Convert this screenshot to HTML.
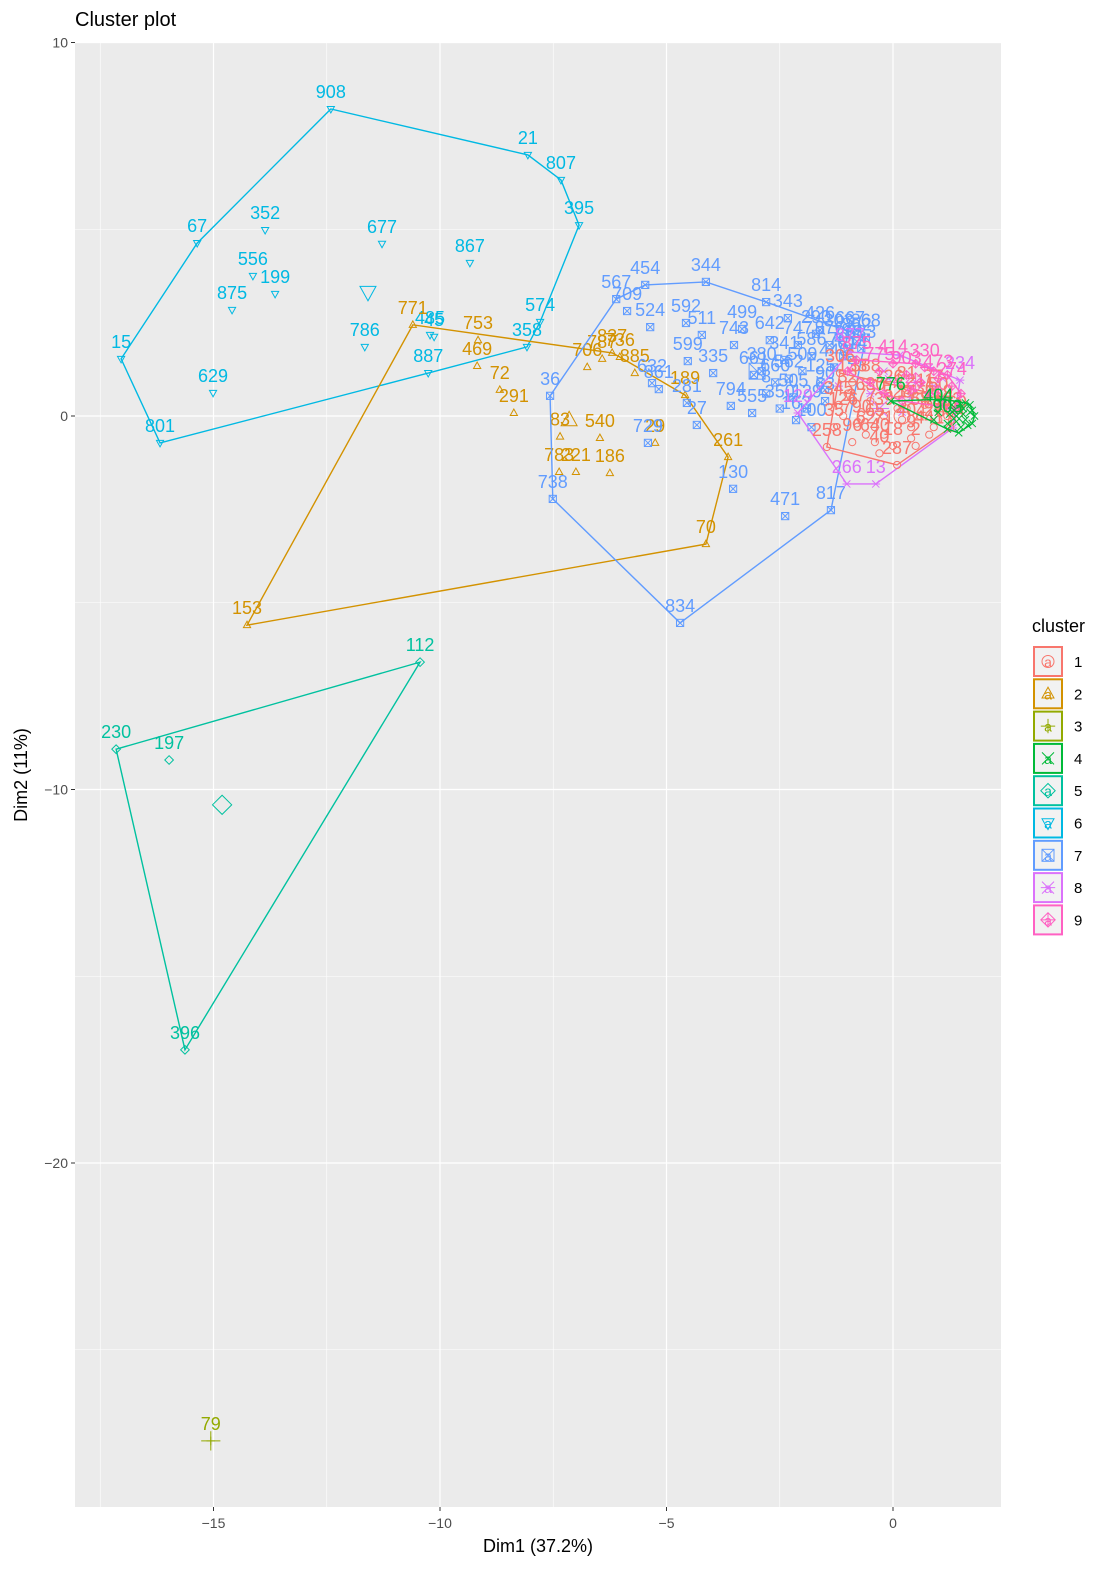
<!DOCTYPE html>
<html><head><meta charset="utf-8"><style>
body{margin:0;background:#fff;}
svg text{font-family:"Liberation Sans",sans-serif;}
</style></head><body>
<svg id="chart" width="1093" height="1565" viewBox="0 0 1093 1565" xmlns="http://www.w3.org/2000/svg">
<text x="75" y="26" font-size="20" fill="#000">Cluster plot</text>
<rect x="75" y="43" width="926" height="1464" fill="#ebebeb"/>
<g id="grid"></g>
<g id="axes"></g>
<g id="marks"></g>
<text x="538" y="1552" font-size="18" text-anchor="middle">Dim1 (37.2%)</text>
<text transform="translate(27,775) rotate(-90)" font-size="18" text-anchor="middle">Dim2 (11%)</text>
<g id="legend">
<text x="1032" y="632" font-size="18">cluster</text>
</g>
</svg>
<script>
const clusterIds = [1,2,3,4,5,6,7,8,9];
const clusterColors = ["#F8766D","#D39200","#93AA00","#00BA38","#00C19F","#00B9E3","#619CFF","#DB72FB","#FF61C3"];
const xTicks = [-15,-10,-5,0];
const yTicks = [10,0,-10,-20];
const xTickLabels = ["\u221215","\u221210","\u22125","0"];
const yTickLabels = ["10","0","\u221210","\u221220"];
const xMinor = [-17.5,-12.5,-7.5,-2.5];
const yMinor = [5,-5,-15,-25];

const c1x = [-1.46,0.09,1.26,-1.17,-1.2,-0.8,-0.5,-0.2,0.1,0.4,0.7,1.0,-0.9,-0.3,0.5,0.9,0.3,-0.6,-1.3,0.2,0.6,1.1,-0.4,-1.0,-0.7,-0.1,0.3,0.8,1.2,-1.1,-0.4,0.0,0.4,0.9,1.3,-0.6,-0.2,0.6,1.0,-0.9];
const c1y = [-0.83,-1.31,-0.32,1.15,0.3,-0.2,0.4,-0.5,0.2,-0.3,0.3,-0.1,-0.7,-1.0,-0.8,0.6,0.7,0.9,-0.3,-0.1,0.0,0.2,-0.7,0.6,0.1,0.6,0.2,-0.5,0.0,0.0,-0.3,-0.8,-0.6,-0.3,-0.1,-0.5,0.0,0.5,0.4,0.9];
const c1l = ["258","287","604","306","345","790","630","71","528","404","36","612","96","40","2","77","81","388","35","5","68","19","640","32","377","326","14","441","803","126","65","18","9","27","460","62","39","211","50","133"];

const c2x = [-10.60,-9.16,-9.18,-8.68,-8.37,-6.75,-6.42,-6.20,-6.03,-5.70,-4.59,-5.25,-6.47,-7.37,-7.00,-6.25,-3.64,-4.13,-14.26,-7.35];
const c2y = [2.44,2.03,1.34,0.70,0.08,1.31,1.53,1.69,1.58,1.15,0.56,-0.72,-0.59,-1.50,-1.50,-1.53,-1.10,-3.43,-5.60,-0.55];
const c2l = ["771","753","469","72","291","706","787","837","736","885","189","29","540","783","221","186","261","70","153","83"];

const c3x = [-15.06];
const c3y = [-27.44];
const c3l = ["79"];

const c4x = [1.0,1.2,1.4,1.5,1.6,1.7,1.3,1.5,1.2,1.1,1.6,1.75,1.45,1.35,0.9,-0.05,1.55,1.7,1.65,1.8,1.4,1.25,1.55,1.75];
const c4y = [0.1,-0.2,0.0,0.3,-0.1,0.1,0.3,-0.3,-0.35,0.45,0.35,-0.2,-0.45,0.15,-0.1,0.4,0.05,0.3,-0.25,0.0,-0.15,0.05,0.2,0.15];
const c4l = ["404","903","","","","","","","","","","","","","","776","","","","","","","",""];

const c5x = [-10.44,-17.15,-15.98,-15.63];
const c5y = [-6.59,-8.92,-9.21,-16.97];
const c5l = ["112","230","197","396"];

const c6x = [-12.41,-8.06,-7.33,-6.93,-15.36,-13.86,-11.28,-9.34,-14.13,-13.64,-14.59,-7.79,-17.04,-11.66,-10.22,-10.13,-8.08,-10.26,-15.01,-16.18];
const c6y = [8.22,6.99,6.32,5.11,4.63,4.98,4.61,4.10,3.75,3.27,2.84,2.52,1.53,1.85,2.17,2.12,1.85,1.15,0.62,-0.72];
const c6l = ["908","21","807","395","67","352","677","867","556","199","875","574","15","786","485","45","358","887","629","801"];

const c7x = [-5.47,-4.13,-6.11,-5.87,-5.36,-4.57,-4.22,-2.80,-2.32,-3.33,-3.51,-2.72,-4.53,-3.97,-7.57,-7.51,-4.70,-1.37,-2.38,-3.53,-4.33,-5.41,-4.55,-5.32,-5.17,-3.58,-3.11,-3.07,-2.14,-0.95,-1.61,-2.4,-2.0,-1.8,-1.6,-1.4,-1.2,-1.0,-0.8,-0.6,-2.6,-2.2,-1.9,-1.5,-2.8,-1.3,-2.1,-1.7,-0.9,-2.5,-1.8,-2.3,-1.1,-0.7,-2.9,-1.5];
const c7y = [3.51,3.59,3.13,2.81,2.38,2.49,2.17,3.05,2.62,2.33,1.90,2.03,1.47,1.15,0.54,-2.22,-5.54,-2.52,-2.68,-1.95,-0.24,-0.72,0.35,0.88,0.72,0.27,0.08,1.10,-0.11,2.17,2.30,1.5,1.2,1.6,0.9,1.9,2.1,1.8,2.0,2.1,0.9,0.5,0.2,0.4,0.6,1.3,1.9,2.2,1.5,0.2,-0.3,1.0,1.6,1.8,1.2,0.7];
const c7l = ["454","344","567","709","524","592","511","814","343","499","743","642","599","335","36","738","834","817","471","130","27","729","281","632","861","794","555","661","162","667","426","341","509","586","125","876","303","718","852","868","660","505","129","63","8","440","747","290","614","350","100","562","701","683","380","90"];

const c8x = [-2.10,-1.02,-0.38,1.32,1.48,0.15,-0.95,-0.5,0.5,1.0,0.2,-1.2,0.8,-0.2,0.9,1.2,0.4,-0.1,1.1];
const c8y = [0.08,-1.82,-1.82,-0.32,0.96,1.63,1.71,0.6,0.9,0.5,0.1,0.8,1.3,1.2,0.8,0.2,0.5,1.0,1.0];
const c8l = ["129","266","13","","234","","877","","","","","","","","","","","",""];

const c9x = [0.7,0.3,-0.3,1.0,1.3,-0.8,0.0,0.9,1.5,-0.5,0.4,1.1,0.2,-1.0,0.6,1.4,0.8,1.2,0.5,-0.2,1.0,0.1];
const c9y = [1.3,1.1,1.2,1.0,0.8,1.5,1.4,1.2,0.6,0.9,0.7,0.4,0.4,1.2,0.9,0.2,0.6,1.1,1.4,0.6,0.7,0.9];
const c9l = ["330","903","775","473","274","875","414","","","","","","","","","","","","","","",""];

const centerX = [0.2,-7.15,-15.06,1.4,-14.81,-11.59,-3.0,-0.3,0.5];
const centerY = [0.0,-0.11,-27.44,0.0,-10.41,3.32,1.2,0.2,0.9];

const allX = [c1x,c2x,c3x,c4x,c5x,c6x,c7x,c8x,c9x];
const allY = [c1y,c2y,c3y,c4y,c5y,c6y,c7y,c8y,c9y];
const allL = [c1l,c2l,c3l,c4l,c5l,c6l,c7l,c8l,c9l];

const PX0=893, PXU=45.3, PY0=416, PYU=37.35;
function sx(v){return PX0+v*PXU;}
function sy(v){return PY0-v*PYU;}
const NS="http://www.w3.org/2000/svg";
function mk(tag,attrs,parent){const e=document.createElementNS(NS,tag);for(const k in attrs)e.setAttribute(k,attrs[k]);parent.appendChild(e);return e;}

const grid=document.getElementById('grid');
xMinor.forEach(v=>{const l=mk('line',{x1:sx(v),x2:sx(v),y1:43,y2:1507,stroke:'#fff','stroke-width':0.6},grid);

});
yMinor.forEach(v=>{const l=mk('line',{x1:75,x2:1001,y1:sy(v),y2:sy(v),stroke:'#fff','stroke-width':0.6},grid);

});
xTicks.forEach(v=>{const l=mk('line',{x1:sx(v),x2:sx(v),y1:43,y2:1507,stroke:'#fff','stroke-width':1.2},grid);

});
yTicks.forEach(v=>{const l=mk('line',{x1:75,x2:1001,y1:sy(v),y2:sy(v),stroke:'#fff','stroke-width':1.2},grid);

});

const axes=document.getElementById('axes');
xTicks.forEach((v,i)=>{
const t=mk('line',{x1:sx(v),x2:sx(v),y1:1507,y2:1511,stroke:'#333','stroke-width':1},axes);


const tx=mk('text',{x:sx(v),y:1528,'font-size':14,fill:'#4d4d4d','text-anchor':'middle'},axes);tx.textContent=xTickLabels[i];

});
yTicks.forEach((v,i)=>{
const t=mk('line',{x1:71,x2:75,y1:sy(v),y2:sy(v),stroke:'#333','stroke-width':1},axes);


const tx=mk('text',{x:68,y:sy(v)+5,'font-size':14,fill:'#4d4d4d','text-anchor':'end'},axes);tx.textContent=yTickLabels[i];

});

function hull(pts){
 pts=pts.slice().sort((a,b)=>a[0]-b[0]||a[1]-b[1]);
 if(pts.length<3)return pts;
 const cr=(o,a,b)=>(a[0]-o[0])*(b[1]-o[1])-(a[1]-o[1])*(b[0]-o[0]);
 const lo=[];for(const p of pts){while(lo.length>=2&&cr(lo[lo.length-2],lo[lo.length-1],p)<=0)lo.pop();lo.push(p);}
 const up=[];for(let i=pts.length-1;i>=0;i--){const p=pts[i];while(up.length>=2&&cr(up[up.length-2],up[up.length-1],p)<=0)up.pop();up.push(p);}
 up.pop();lo.pop();return lo.concat(up);
}
function symbol(k,x,y,s,col,parent){
 const g=mk('g',{fill:'none',stroke:col,'stroke-width':1},parent);
 if(k===1){mk('circle',{cx:x,cy:y,r:s},g);}
 else if(k===2){mk('polygon',{points:`${x},${y-s*1.1} ${x-s},${y+s*0.7} ${x+s},${y+s*0.7}`},g);}
 else if(k===3){mk('path',{d:`M${x-s*1.2},${y}H${x+s*1.2}M${x},${y-s*1.2}V${y+s*1.2}`},g);}
 else if(k===4){mk('path',{d:`M${x-s},${y-s}L${x+s},${y+s}M${x-s},${y+s}L${x+s},${y-s}`},g);}
 else if(k===5){mk('polygon',{points:`${x},${y-s*1.2} ${x+s*1.2},${y} ${x},${y+s*1.2} ${x-s*1.2},${y}`},g);}
 else if(k===6){mk('polygon',{points:`${x},${y+s*1.1} ${x-s},${y-s*0.7} ${x+s},${y-s*0.7}`},g);}
 else if(k===7){mk('rect',{x:x-s,y:y-s,width:2*s,height:2*s},g);mk('path',{d:`M${x-s},${y-s}L${x+s},${y+s}M${x-s},${y+s}L${x+s},${y-s}`},g);}
 else if(k===8){mk('path',{d:`M${x-s},${y-s}L${x+s},${y+s}M${x-s},${y+s}L${x+s},${y-s}M${x-s*1.2},${y}H${x+s*1.2}`},g);}
 else {mk('polygon',{points:`${x},${y-s*1.2} ${x+s*1.2},${y} ${x},${y+s*1.2} ${x-s*1.2},${y}`},g);mk('path',{d:`M${x-s*1.2},${y}H${x+s*1.2}M${x},${y-s*1.2}V${y+s*1.2}`},g);}
 return g;
}
const marks=document.getElementById('marks');
const order=[6,5,3,2,7,8,1,9,4];
order.forEach(k=>{
 const i=k-1,col=clusterColors[i];
 const xs=allX[i],ys=allY[i],ls=allL[i];
 const pts=xs.map((v,j)=>[sx(v),sy(ys[j])]);
 const g=mk('g',{},marks);
 
 
 if(pts.length>=3){
  const h=hull(pts);
  const pg=mk('polygon',{points:h.map(p=>p.join(',')).join(' '),fill:'none',stroke:col,'stroke-width':1.4},g);
  
  
 }
 pts.forEach((p,j)=>{
  const s=symbol(k,p[0],p[1],3.6,col,g);
  
  
  if(ls[j]){
   const t=mk('text',{x:p[0],y:p[1]-11,'font-size':18,fill:col,'text-anchor':'middle'},g);t.textContent=ls[j];
   
   
  }
 });
 const c=symbol(k,sx(centerX[i]),sy(centerY[i]),8,col,g);
 
 
});

const leg=document.getElementById('legend');
clusterIds.forEach((k,i)=>{
 const y=646+i*32.3, col=clusterColors[i];
 const r=mk('rect',{x:1034,y:y+1,width:28,height:29,fill:'#f2f2f2',stroke:col,'stroke-width':2},leg);
 
 
 symbol(k,1048,y+15.5,6,col,leg);
 const a=mk('text',{x:1048,y:y+21,'font-size':14,fill:col,'text-anchor':'middle'},leg);a.textContent='a';
 
 
 const t=mk('text',{x:1074,y:y+21,'font-size':15,fill:'#000'},leg);t.textContent=String(k);
 
 
});
</script>
</body></html>
